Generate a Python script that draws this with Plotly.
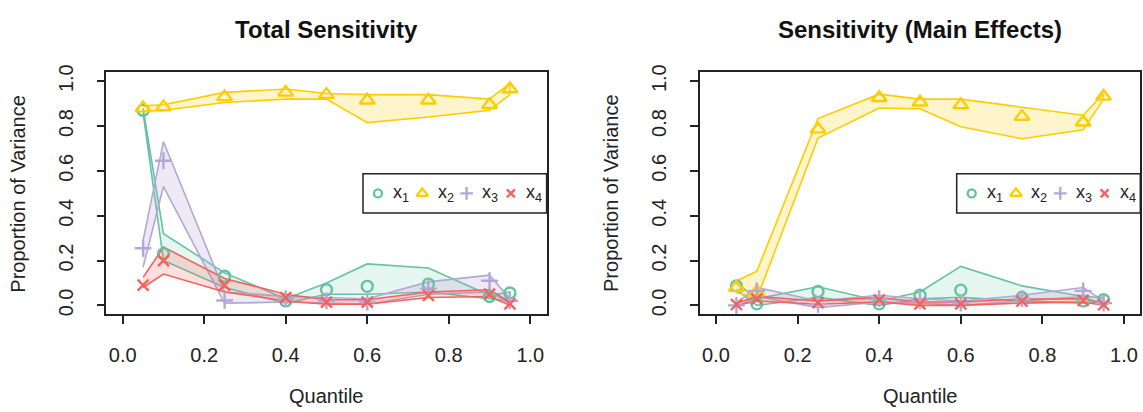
import plotly.graph_objects as go

# ---------------- data ----------------
quantiles = [0.05, 0.1, 0.25, 0.4, 0.5, 0.6, 0.75, 0.9, 0.95]
series_names = ["x<sub>1</sub>", "x<sub>2</sub>", "x<sub>3</sub>", "x<sub>4</sub>"]
tick_vals = [0.0, 0.2, 0.4, 0.6, 0.8, 1.0]
tick_text = ["0.0", "0.2", "0.4", "0.6", "0.8", "1.0"]
panel_titles = ["Total Sensitivity", "Sensitivity (Main Effects)"]

# Total sensitivity: estimate, lower, upper
tot_x1 = [0.87, 0.23, 0.13, 0.02, 0.07, 0.085, 0.095, 0.04, 0.055]
tot_x1_lo = [0.86, 0.20, 0.08, 0.01, 0.05, 0.05, 0.06, 0.03, 0.02]
tot_x1_hi = [0.88, 0.32, 0.145, 0.03, 0.10, 0.185, 0.167, 0.045, 0.06]

tot_x2 = [0.88, 0.885, 0.93, 0.95, 0.94, 0.915, 0.915, 0.895, 0.965]
tot_x2_lo = [0.865, 0.87, 0.905, 0.92, 0.92, 0.815, 0.84, 0.87, 0.94]
tot_x2_hi = [0.89, 0.895, 0.95, 0.965, 0.945, 0.94, 0.94, 0.92, 0.99]

tot_x3 = [0.255, 0.645, 0.022, 0.03, 0.02, 0.015, 0.075, 0.11, 0.02]
tot_x3_lo = [0.17, 0.53, 0.01, 0.015, 0.01, 0.005, 0.05, 0.06, 0.01]
tot_x3_hi = [0.29, 0.73, 0.06, 0.04, 0.035, 0.03, 0.105, 0.135, 0.03]

tot_x4 = [0.09, 0.20, 0.09, 0.035, 0.015, 0.015, 0.045, 0.05, 0.007]
tot_x4_lo = [0.08, 0.14, 0.06, 0.02, 0.005, 0.005, 0.035, 0.04, 0.0]
tot_x4_hi = [0.125, 0.26, 0.12, 0.05, 0.025, 0.025, 0.06, 0.07, 0.015]

# Main effects: estimate, lower, upper
main_x1 = [0.087, 0.007, 0.062, 0.007, 0.045, 0.068, 0.035, 0.02, 0.025]
main_x1_lo = [0.07, 0.0, 0.036, 0.0, 0.03, 0.036, 0.02, 0.01, 0.015]
main_x1_hi = [0.10, 0.03, 0.083, 0.02, 0.06, 0.174, 0.087, 0.04, 0.035]

main_x2 = [0.08, 0.06, 0.786, 0.926, 0.906, 0.894, 0.842, 0.817, 0.932]
main_x2_lo = [0.058, 0.03, 0.746, 0.88, 0.877, 0.797, 0.743, 0.783, 0.92]
main_x2_hi = [0.109, 0.152, 0.833, 0.942, 0.92, 0.92, 0.884, 0.848, 0.945]

main_x3 = [0.0, 0.065, 0.005, 0.03, 0.02, 0.01, 0.03, 0.065, 0.01]
main_x3_lo = [-0.01, 0.04, -0.01, 0.015, 0.01, 0.0, 0.02, 0.04, 0.0]
main_x3_hi = [0.01, 0.08, 0.02, 0.045, 0.03, 0.02, 0.045, 0.08, 0.02]

main_x4 = [0.004, 0.029, 0.012, 0.025, 0.007, 0.007, 0.019, 0.022, 0.003]
main_x4_lo = [0.0, 0.02, 0.005, 0.015, 0.0, 0.0, 0.01, 0.015, 0.0]
main_x4_hi = [0.01, 0.04, 0.02, 0.035, 0.015, 0.015, 0.028, 0.03, 0.01]

# ---------------- style ----------------
colors = ["#66C2A5", "#FFCC00", "#B2A7D6", "#F8615A"]
fills = ["rgba(102,194,165,0.17)", "rgba(255,204,0,0.2)",
         "rgba(178,167,214,0.24)", "rgba(248,97,90,0.2)"]
symbols = ["circle-open", "triangle-up-open", "cross-thin-open", "x-thin-open"]
msizes = [11, 13, 12, 11]
leg_sizes = [8, 10, 9, 8]
FONT = "Liberation Sans, Arial, sans-serif"
W, H = 1143, 412


def px_x(p):
    return p / W


def px_y(p):
    return 1 - p / H


panels = [
    dict(est=[tot_x1, tot_x2, tot_x3, tot_x4],
         lo=[tot_x1_lo, tot_x2_lo, tot_x3_lo, tot_x4_lo],
         hi=[tot_x1_hi, tot_x2_hi, tot_x3_hi, tot_x4_hi],
         box=(106.4, 546.6), leg=(363.0, 546.6)),
    dict(est=[main_x1, main_x2, main_x3, main_x4],
         lo=[main_x1_lo, main_x2_lo, main_x3_lo, main_x4_lo],
         hi=[main_x1_hi, main_x2_hi, main_x3_hi, main_x4_hi],
         box=(699.7, 1140.3), leg=(956.7, 1140.3)),
]

fig = go.Figure()
ytop, ybot = 65.8, 314.0
leg_top, leg_bot = 170.0, 210.0

for pi, p in enumerate(panels):
    xa = "x" if pi == 0 else "x2"
    ya = "y" if pi == 0 else "y2"
    for k in range(4):
        fig.add_trace(go.Scatter(
            x=quantiles + quantiles[::-1],
            y=p["hi"][k] + p["lo"][k][::-1],
            mode="lines", fill="toself", fillcolor=fills[k],
            line=dict(color=colors[k], width=1.6),
            xaxis=xa, yaxis=ya, showlegend=False, hoverinfo="skip"))
    for k in range(4):
        fig.add_trace(go.Scatter(
            x=quantiles, y=p["est"][k], mode="markers",
            marker=dict(symbol=symbols[k], size=msizes[k], color=colors[k],
                        line=dict(width=2.4, color=colors[k])),
            xaxis=xa, yaxis=ya, showlegend=False, cliponaxis=False))
    # legend keys on their own hidden axes (x = series index)
    lxa = "x3" if pi == 0 else "x4"
    lya = "y3" if pi == 0 else "y4"
    for k in range(4):
        fig.add_trace(go.Scatter(
            x=[k], y=[0.5], mode="markers",
            marker=dict(symbol=symbols[k], size=leg_sizes[k], color=colors[k],
                        line=dict(width=2.4, color=colors[k])),
            xaxis=lxa, yaxis=lya, showlegend=False, cliponaxis=False,
            hoverinfo="skip"))
        fig.add_annotation(
            x=k + 0.3, y=0.5, xref=lxa, yref=lya, text=series_names[k],
            showarrow=False, xanchor="left", yanchor="middle",
            font=dict(family=FONT, size=18, color="#222222"))

axis_common = dict(
    range=[-0.04, 1.04], tickvals=tick_vals, ticktext=tick_text,
    ticks="outside", ticklen=8, tickwidth=1.5, tickcolor="#222222",
    showline=True, mirror=True, linecolor="#222222", linewidth=1.5,
    showgrid=False, zeroline=False,
    tickfont=dict(family=FONT, size=20, color="#222222"),
)

dom_y = [px_y(ybot), px_y(ytop)]
leg_dom_y = [px_y(leg_bot), px_y(leg_top)]


def leg_axis_range(left_px, right_px):
    # first key 15px right of the box, keys 44.3px apart
    pitch = 44.3
    r0 = -15.0 / pitch
    r1 = r0 + (right_px - left_px) / pitch
    return [r0, r1]


layout_axes = {}
for pi, p in enumerate(panels):
    xn = "xaxis" if pi == 0 else "xaxis2"
    yn = "yaxis" if pi == 0 else "yaxis2"
    layout_axes[xn] = dict(axis_common, domain=[px_x(p["box"][0]), px_x(p["box"][1])],
                           anchor="y" if pi == 0 else "y2", ticklabelstandoff=14)
    layout_axes[yn] = dict(axis_common, domain=dom_y,
                           anchor="x" if pi == 0 else "x2",
                           tickangle=-90, ticklabelstandoff=16)
    lxn = "xaxis3" if pi == 0 else "xaxis4"
    lyn = "yaxis3" if pi == 0 else "yaxis4"
    layout_axes[lxn] = dict(domain=[px_x(p["leg"][0]), px_x(p["leg"][1])],
                            range=leg_axis_range(*p["leg"]), visible=False,
                            anchor="y3" if pi == 0 else "y4", fixedrange=True)
    layout_axes[lyn] = dict(domain=leg_dom_y, range=[0, 1], visible=False,
                            anchor="x3" if pi == 0 else "x4", fixedrange=True)

fig.update_layout(
    width=W, height=H, margin=dict(l=0, r=0, t=0, b=0),
    paper_bgcolor="white", plot_bgcolor="rgba(0,0,0,0)",
    showlegend=False, font=dict(family=FONT, color="#222222"),
    **layout_axes)

# legend boxes, titles and axis titles
for pi in range(2):
    lxn = "x3" if pi == 0 else "x4"
    lyn = "y3" if pi == 0 else "y4"
    fig.add_shape(type="rect", xref=lxn + " domain", yref=lyn + " domain",
                  x0=0, x1=1, y0=0, y1=1, line=dict(color="#222222", width=1.5),
                  fillcolor="white", layer="below")
    xd = ("x" if pi == 0 else "x2") + " domain"
    fig.add_annotation(x=0.5, xref=xd, y=px_y(22), yref="paper",
                       text="<b>" + panel_titles[pi] + "</b>", showarrow=False,
                       xanchor="center", yanchor="middle",
                       font=dict(family=FONT, size=24, color="#111111"))
    fig.add_annotation(x=0.5, xref=xd, y=px_y(398), yref="paper",
                       text="Quantile", showarrow=False,
                       xanchor="center", yanchor="middle",
                       font=dict(family=FONT, size=20, color="#222222"))
    fig.add_annotation(x=0, xref=xd, xshift=-88, y=0.5,
                       yref=("y" if pi == 0 else "y2") + " domain",
                       text="Proportion of Variance", showarrow=False, textangle=-90,
                       xanchor="center", yanchor="middle",
                       font=dict(family=FONT, size=20, color="#222222"))

fig.write_html(
    "out.html",
    config={"displayModeBar": False},
    post_script="document.body.style.margin='0';document.body.style.overflow='hidden';")
